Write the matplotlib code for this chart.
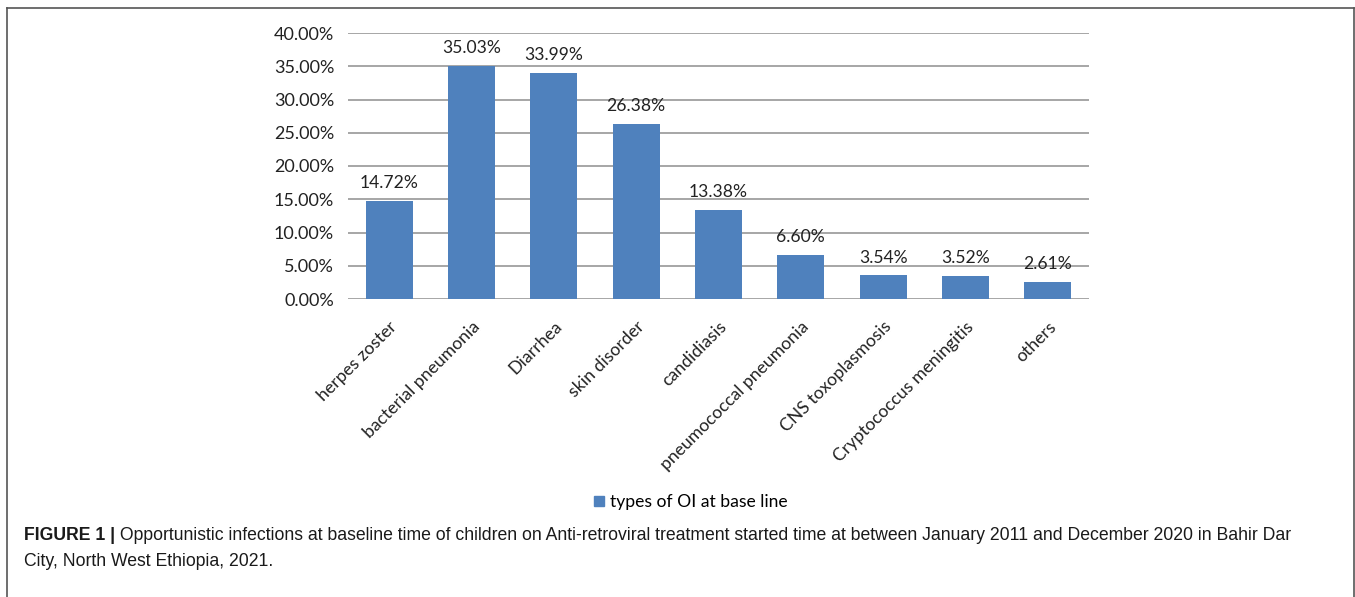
import matplotlib
matplotlib.use("Agg")
import matplotlib.pyplot as plt
from matplotlib.patches import Rectangle
from matplotlib.lines import Line2D
from matplotlib.ticker import MultipleLocator, FuncFormatter

categories = ["herpes zoster", "bacterial pneumonia", "Diarrhea", "skin disorder",
              "candidiasis", "pneumococcal pneumonia", "CNS toxoplasmosis",
              "Cryptococcus meningitis", "others"]
values = [14.72, 35.03, 33.99, 26.38, 13.38, 6.60, 3.54, 3.52, 2.61]
series_name = "types of OI at base line"
caption_bold = "FIGURE 1 |"
caption_line1 = (" Opportunistic infections at baseline time of children on Anti-retroviral treatment "
                 "started time at between January 2011 and December 2020 in Bahir Dar")
caption_line2 = "City, North West Ethiopia, 2021."

W, H = 1355, 597
fig = plt.figure(figsize=(W / 100, H / 100), dpi=100)
fig.patch.set_facecolor("white")

chart_font = ["Lato", "DejaVu Sans"]
cap_font = ["Liberation Sans", "DejaVu Sans"]
bar_color = "#4F81BD"
txt_color = "#222222"

ax = fig.add_axes([348 / W, 1 - 299 / H, (1089 - 348) / W, (299 - 33) / H])
x = list(range(len(categories)))
ax.bar(x, values, width=0.57, color=bar_color, zorder=3, label=series_name)
ax.set_xlim(-0.5, len(categories) - 0.5)
ax.set_ylim(0, 40)
ax.yaxis.set_major_locator(MultipleLocator(5))
ax.yaxis.set_major_formatter(FuncFormatter(lambda v, p: f"{v:.2f}%"))
ax.grid(axis="y", color="#A6A6A6", linewidth=1.4, zorder=0)
for s in ax.spines.values():
    s.set_visible(False)
ax.tick_params(axis="y", length=0, pad=10, labelsize=13)
ax.tick_params(axis="x", length=0, pad=14)
for lab in ax.get_yticklabels():
    lab.set_family(chart_font)
    lab.set_color(txt_color)
ax.set_xticks(x)
ax.set_xticklabels(categories, rotation=45, ha="right", rotation_mode="anchor",
                   fontsize=12.7, family=chart_font, color=txt_color)
for xi, v in zip(x, values):
    ax.annotate(f"{v:.2f}%", (xi, v), xytext=(0, 7), textcoords="offset points",
                ha="center", va="bottom", fontsize=12.6, family=chart_font, color=txt_color)

# legend
fig.legend(handles=[Rectangle((0, 0), 1, 1, color=bar_color)], labels=[series_name],
           loc="center", bbox_to_anchor=(691 / W, 1 - 502 / H), frameon=False,
           prop={"family": chart_font, "size": 12.6}, handlelength=0.55, handleheight=0.55,
           handletextpad=0.4)

# border box (open at bottom)
bc = "#555555"
for (xs, ys) in [([7 / W, 7 / W], [1 - 8 / H, 0]), ([7 / W, 1354 / W], [1 - 8 / H, 1 - 8 / H]),
                 ([1354 / W, 1354 / W], [1 - 8 / H, 0])]:
    fig.add_artist(Line2D(xs, ys, transform=fig.transFigure, color=bc, linewidth=1.2))

# caption
t1 = fig.text(24 / W, 1 - 535 / H, caption_bold, fontsize=12.7, fontweight="bold",
              family=cap_font, va="center", ha="left", color="#1a1a1a")
fig.canvas.draw()
bb = t1.get_window_extent()
fig.text(bb.x1 / W, 1 - 535 / H, caption_line1, fontsize=12.7,
         family=cap_font, va="center", ha="left", color="#1a1a1a")
fig.text(24 / W, 1 - 562 / H, caption_line2, fontsize=12.7,
         family=cap_font, va="center", ha="left", color="#1a1a1a")

fig.savefig("out.png", dpi=100, facecolor="white")
